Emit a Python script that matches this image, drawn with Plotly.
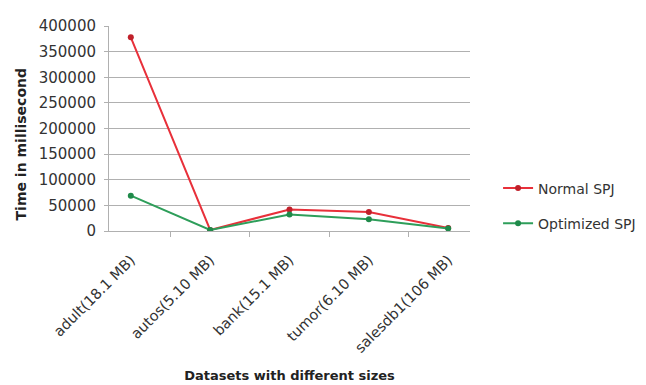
import plotly.graph_objects as go

categories = ["adult(18.1 MB)", "autos(5.10 MB)", "bank(15.1 MB)", "tumor(6.10 MB)", "salesdb1(106 MB)"]
normal_spj = [378000, 2000, 42000, 37000, 6000]
optimized_spj = [69000, 2000, 32000, 23000, 5000]
y_ticks = [0, 50000, 100000, 150000, 200000, 250000, 300000, 350000, 400000]

fig = go.Figure()
fig.add_trace(go.Scatter(x=categories, y=normal_spj, name="Normal SPJ", mode="lines+markers",
                         legendgroup="a",
                         line=dict(color="#e8303a", width=2), marker=dict(color="#c0202a", size=6)))
fig.add_trace(go.Scatter(x=categories, y=optimized_spj, name="Optimized SPJ", mode="lines+markers",
                         legendgroup="b",
                         line=dict(color="#2e9e5a", width=2), marker=dict(color="#1f8a4a", size=6)))

font_family = "DejaVu Sans, sans-serif"
fig.update_layout(
    width=646, height=385,
    margin=dict(l=109, r=176, t=26, b=154),
    paper_bgcolor="white", plot_bgcolor="white",
    font=dict(family=font_family, color="#333333", size=13),
    legend=dict(xref="container", yref="container", x=0.771, y=0.465, xanchor="left", yanchor="middle",
                font=dict(size=14, color="#333333"),
                bgcolor="rgba(0,0,0,0)", tracegroupgap=14, borderwidth=0),
    showlegend=True,
    annotations=[dict(text="<b>Time in millisecond</b>", textangle=-90, xref="paper", yref="paper",
                      x=-0.245, y=0.42, xanchor="center", yanchor="middle", showarrow=False,
                      font=dict(size=14, color="#222222"))],
)
fig.update_yaxes(range=[0, 400000], tickvals=y_ticks, ticktext=[str(v) for v in y_ticks],
                 automargin=False,
                 showgrid=True, gridcolor="#b0b0b0", gridwidth=1,
                 showline=True, linecolor="#b0b0b0", linewidth=1,
                 ticks="outside", ticklen=4, tickcolor="#b0b0b0", ticklabelstandoff=5,
                 tickfont=dict(size=15, color="#333333"),
                 zeroline=False)
fig.update_xaxes(type="category", tickangle=-45, tickson="boundaries", ticks="outside", ticklen=5,
                 automargin=False, ticklabelstandoff=14,
                 tickcolor="#b0b0b0", showline=True, linecolor="#b0b0b0", linewidth=1, showgrid=False,
                 tickfont=dict(size=14.5, color="#333333"),
                 title=dict(text="<b>Datasets with different sizes</b>", font=dict(size=13, color="#222222"), standoff=16))

fig.write_html("out.html", post_script="document.body.style.margin='0';",
               config={"displayModeBar": False})
